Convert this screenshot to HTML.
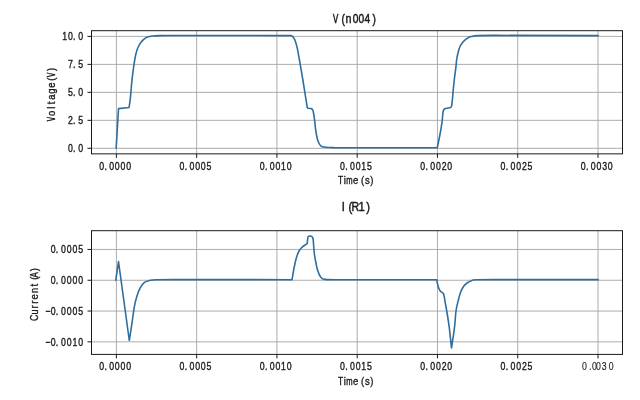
<!DOCTYPE html><html><head><meta charset="utf-8"><style>html,body{margin:0;padding:0;background:#fff;width:640px;height:400px;overflow:hidden}svg{display:block;will-change:transform}</style></head><body>
<svg width="640" height="400" viewBox="0 0 640 400" font-family='"Liberation Sans", sans-serif'>
<rect width="640" height="400" fill="#fff"/>
<path d="M116.4 30.7V153.85M196.67 30.7V153.85M276.93 30.7V153.85M357.2 30.7V153.85M437.46 30.7V153.85M517.73 30.7V153.85M597.99 30.7V153.85M91.5 148.3H622.5M91.5 120.33H622.5M91.5 92.35H622.5M91.5 64.38H622.5M91.5 36.4H622.5" stroke="#a4a4a4" stroke-width="0.9" fill="none"/>
<rect x="91.5" y="30.7" width="531" height="123.15" fill="none" stroke="#1a1a1a" stroke-width="1"/>
<path d="M116.4 153.85v4M196.67 153.85v4M276.93 153.85v4M357.2 153.85v4M437.46 153.85v4M517.73 153.85v4M597.99 153.85v4M91.5 148.3h-4M91.5 120.33h-4M91.5 92.35h-4M91.5 64.38h-4M91.5 36.4h-4" stroke="#1a1a1a" stroke-width="1" fill="none"/>
<g font-size="11.2" text-anchor="middle" fill="#1a1a1a" stroke="#1a1a1a"><text transform="translate(101.7 169.9) scale(0.78 1)" stroke-width="0.38">0</text><text transform="translate(105.6 169.9) scale(0.78 1)" stroke-width="0.38">.</text><text transform="translate(111.7 169.9) scale(0.78 1)" stroke-width="0.38">0</text><text transform="translate(117.3 169.9) scale(0.78 1)" stroke-width="0.38">0</text><text transform="translate(123 169.9) scale(0.78 1)" stroke-width="0.38">0</text><text transform="translate(128.6 169.9) scale(0.78 1)" stroke-width="0.38">0</text></g>
<g font-size="11.2" text-anchor="middle" fill="#1a1a1a" stroke="#1a1a1a"><text transform="translate(181.97 169.9) scale(0.78 1)" stroke-width="0.38">0</text><text transform="translate(185.87 169.9) scale(0.78 1)" stroke-width="0.38">.</text><text transform="translate(191.97 169.9) scale(0.78 1)" stroke-width="0.38">0</text><text transform="translate(197.57 169.9) scale(0.78 1)" stroke-width="0.38">0</text><text transform="translate(203.27 169.9) scale(0.78 1)" stroke-width="0.38">0</text><text transform="translate(208.87 169.9) scale(0.78 1)" stroke-width="0.38">5</text></g>
<g font-size="11.2" text-anchor="middle" fill="#1a1a1a" stroke="#1a1a1a"><text transform="translate(262.23 169.9) scale(0.78 1)" stroke-width="0.38">0</text><text transform="translate(266.13 169.9) scale(0.78 1)" stroke-width="0.38">.</text><text transform="translate(272.23 169.9) scale(0.78 1)" stroke-width="0.38">0</text><text transform="translate(277.83 169.9) scale(0.78 1)" stroke-width="0.38">0</text><text transform="translate(283.53 169.9) scale(0.78 1)" stroke-width="0.38">1</text><text transform="translate(289.13 169.9) scale(0.78 1)" stroke-width="0.38">0</text></g>
<g font-size="11.2" text-anchor="middle" fill="#1a1a1a" stroke="#1a1a1a"><text transform="translate(342.5 169.9) scale(0.78 1)" stroke-width="0.38">0</text><text transform="translate(346.4 169.9) scale(0.78 1)" stroke-width="0.38">.</text><text transform="translate(352.5 169.9) scale(0.78 1)" stroke-width="0.38">0</text><text transform="translate(358.1 169.9) scale(0.78 1)" stroke-width="0.38">0</text><text transform="translate(363.8 169.9) scale(0.78 1)" stroke-width="0.38">1</text><text transform="translate(369.4 169.9) scale(0.78 1)" stroke-width="0.38">5</text></g>
<g font-size="11.2" text-anchor="middle" fill="#1a1a1a" stroke="#1a1a1a"><text transform="translate(422.76 169.9) scale(0.78 1)" stroke-width="0.38">0</text><text transform="translate(426.66 169.9) scale(0.78 1)" stroke-width="0.38">.</text><text transform="translate(432.76 169.9) scale(0.78 1)" stroke-width="0.38">0</text><text transform="translate(438.36 169.9) scale(0.78 1)" stroke-width="0.38">0</text><text transform="translate(444.06 169.9) scale(0.78 1)" stroke-width="0.38">2</text><text transform="translate(449.66 169.9) scale(0.78 1)" stroke-width="0.38">0</text></g>
<g font-size="11.2" text-anchor="middle" fill="#1a1a1a" stroke="#1a1a1a"><text transform="translate(503.03 169.9) scale(0.78 1)" stroke-width="0.38">0</text><text transform="translate(506.93 169.9) scale(0.78 1)" stroke-width="0.38">.</text><text transform="translate(513.02 169.9) scale(0.78 1)" stroke-width="0.38">0</text><text transform="translate(518.62 169.9) scale(0.78 1)" stroke-width="0.38">0</text><text transform="translate(524.33 169.9) scale(0.78 1)" stroke-width="0.38">2</text><text transform="translate(529.93 169.9) scale(0.78 1)" stroke-width="0.38">5</text></g>
<g font-size="11.2" text-anchor="middle" fill="#1a1a1a" stroke="#1a1a1a"><text transform="translate(583.29 169.9) scale(0.78 1)" stroke-width="0.38">0</text><text transform="translate(587.19 169.9) scale(0.78 1)" stroke-width="0.38">.</text><text transform="translate(593.29 169.9) scale(0.78 1)" stroke-width="0.38">0</text><text transform="translate(598.89 169.9) scale(0.78 1)" stroke-width="0.38">0</text><text transform="translate(604.59 169.9) scale(0.78 1)" stroke-width="0.38">3</text><text transform="translate(610.19 169.9) scale(0.78 1)" stroke-width="0.38">0</text></g>
<g font-size="11.2" text-anchor="middle" fill="#1a1a1a" stroke="#1a1a1a"><text transform="translate(70.4 152.2) scale(0.78 1)" stroke-width="0.38">0</text><text transform="translate(74.32 152.2) scale(0.78 1)" stroke-width="0.38">.</text><text transform="translate(80.8 152.2) scale(0.78 1)" stroke-width="0.38">0</text></g>
<g font-size="11.2" text-anchor="middle" fill="#1a1a1a" stroke="#1a1a1a"><text transform="translate(70.4 124.23) scale(0.78 1)" stroke-width="0.38">2</text><text transform="translate(74.32 124.23) scale(0.78 1)" stroke-width="0.38">.</text><text transform="translate(80.8 124.23) scale(0.78 1)" stroke-width="0.38">5</text></g>
<g font-size="11.2" text-anchor="middle" fill="#1a1a1a" stroke="#1a1a1a"><text transform="translate(70.4 96.25) scale(0.78 1)" stroke-width="0.38">5</text><text transform="translate(74.32 96.25) scale(0.78 1)" stroke-width="0.38">.</text><text transform="translate(80.8 96.25) scale(0.78 1)" stroke-width="0.38">0</text></g>
<g font-size="11.2" text-anchor="middle" fill="#1a1a1a" stroke="#1a1a1a"><text transform="translate(70.4 68.28) scale(0.78 1)" stroke-width="0.38">7</text><text transform="translate(74.32 68.28) scale(0.78 1)" stroke-width="0.38">.</text><text transform="translate(80.8 68.28) scale(0.78 1)" stroke-width="0.38">5</text></g>
<g font-size="11.2" text-anchor="middle" fill="#1a1a1a" stroke="#1a1a1a"><text transform="translate(64.65 40.3) scale(0.78 1)" stroke-width="0.38">1</text><text transform="translate(70.4 40.3) scale(0.78 1)" stroke-width="0.38">0</text><text transform="translate(74.32 40.3) scale(0.78 1)" stroke-width="0.38">.</text><text transform="translate(80.8 40.3) scale(0.78 1)" stroke-width="0.38">0</text></g>
<g font-size="10.6" text-anchor="middle" fill="#1a1a1a" stroke="#1a1a1a"><text transform="translate(340.5 184.3) scale(0.8 1)" stroke-width="0.37">T</text><text transform="translate(344.8 184.3) scale(0.9 1)" stroke-width="0.33">i</text><text transform="translate(349.45 184.3) scale(0.72 1)" stroke-width="0.42">m</text><text transform="translate(355.6 184.3) scale(0.9 1)" stroke-width="0.33">e</text><text transform="translate(362.65 184.3) scale(0.9 1)" stroke-width="0.33">(</text><text transform="translate(367.3 184.3) scale(0.9 1)" stroke-width="0.33">s</text><text transform="translate(371.95 184.3) scale(0.9 1)" stroke-width="0.33">)</text></g>
<path d="M116.2 148L118.5 108.6L129 107.5C129.12 106.75 129.52 104.58 129.75 103C129.98 101.42 130.21 99.83 130.4 98C130.59 96.17 130.63 95 130.9 92C131.17 89 131.57 84 132 80C132.43 76 133.05 71.33 133.5 68C133.95 64.67 134.3 62.33 134.7 60C135.1 57.67 135.39 56 135.9 54C136.41 52 137 49.82 137.75 48C138.5 46.18 139.4 44.53 140.4 43.1C141.4 41.67 142.57 40.4 143.75 39.4C144.93 38.4 146 37.67 147.5 37.1C149 36.53 150.75 36.25 152.75 36C154.75 35.75 155.62 35.68 159.5 35.6C163.38 35.52 173.25 35.52 176 35.5L290 35.6C290.38 35.68 291.5 35.4 292.3 36.1C293.1 36.8 293.98 37.83 294.8 39.8C295.62 41.77 296.4 44.38 297.2 47.9C298 51.42 298.92 57.12 299.6 60.9C300.28 64.68 300.7 67.08 301.3 70.6C301.9 74.12 302.54 77.93 303.2 82C303.86 86.07 304.74 91.83 305.25 95C305.76 98.17 305.92 98.9 306.25 101C306.58 103.1 307.08 106.5 307.25 107.6L307.75 108.25L311.25 108.5C311.5 108.75 312.38 109.25 312.75 110C313.12 110.75 313.21 111.45 313.5 113C313.79 114.55 314.12 116.35 314.5 119.3C314.88 122.25 315.25 127.18 315.8 130.7C316.35 134.22 316.93 137.83 317.8 140.4C318.67 142.97 319.65 144.97 321 146.1C322.35 147.23 323.57 146.93 325.9 147.2C328.23 147.47 333.48 147.62 335 147.7L437.25 147.75L438.9 140L440.8 130L442.3 120L442.6 116C442.71 115.17 442.89 112.21 443.25 111C443.61 109.79 443.88 109.25 444.75 108.75C445.62 108.25 447.46 108.25 448.5 108C449.54 107.75 450.46 107.75 451 107.25C451.54 106.75 451.54 106.04 451.75 105C451.96 103.96 452.08 102.5 452.25 101C452.42 99.5 452.61 97.62 452.75 96C452.89 94.38 452.83 94.12 453.1 91.25C453.38 88.38 453.92 82.92 454.4 78.75C454.88 74.58 455.63 69.38 456 66.25C456.37 63.12 456.25 62.29 456.6 60C456.95 57.71 457.53 54.75 458.1 52.5C458.67 50.25 459.18 48.25 460 46.5C460.82 44.75 461.88 43.32 463 42C464.12 40.68 465.38 39.5 466.75 38.6C468.12 37.7 469.38 37.1 471.25 36.6C473.12 36.1 473.88 35.8 478 35.6C482.12 35.4 493 35.43 496 35.4L598 35.6" fill="none" stroke="#2f6d9c" stroke-width="1.6" stroke-linejoin="round" stroke-linecap="square"/>
<g font-size="12.7" text-anchor="middle" fill="#1a1a1a" stroke="#1a1a1a"><text transform="translate(335.65 23.1) scale(0.62 1)" stroke-width="0.65">V</text><text transform="translate(343.25 23.1) scale(0.8 1)" stroke-width="0.5">(</text><text transform="translate(348.6 23.1) scale(0.85 1)" stroke-width="0.47">n</text><text transform="translate(355.5 23.1) scale(0.8 1)" stroke-width="0.5">0</text><text transform="translate(361.4 23.1) scale(0.8 1)" stroke-width="0.5">0</text><text transform="translate(367.4 23.1) scale(0.8 1)" stroke-width="0.5">4</text><text transform="translate(374.2 23.1) scale(0.8 1)" stroke-width="0.5">)</text></g>
<g font-size="10.6" text-anchor="middle" fill="#1a1a1a" stroke="#1a1a1a"><text transform="translate(55.3 119) rotate(-90) scale(0.62 1)" stroke-width="0.56">V</text><text transform="translate(55.3 113.4) rotate(-90) scale(0.9 1)" stroke-width="0.39">o</text><text transform="translate(55.3 107.6) rotate(-90) scale(0.9 1)" stroke-width="0.39">l</text><text transform="translate(55.3 102.8) rotate(-90) scale(0.9 1)" stroke-width="0.39">t</text><text transform="translate(55.3 97.2) rotate(-90) scale(0.9 1)" stroke-width="0.39">a</text><text transform="translate(55.3 91.2) rotate(-90) scale(0.9 1)" stroke-width="0.39">g</text><text transform="translate(55.3 85) rotate(-90) scale(0.9 1)" stroke-width="0.39">e</text><text transform="translate(55.3 79.2) rotate(-90) scale(0.9 1)" stroke-width="0.39">(</text><text transform="translate(55.3 74.8) rotate(-90) scale(0.62 1)" stroke-width="0.56">V</text><text transform="translate(55.3 69.5) rotate(-90) scale(0.9 1)" stroke-width="0.39">)</text></g>
<path d="M116.4 230.7V354.4M196.67 230.7V354.4M276.93 230.7V354.4M357.2 230.7V354.4M437.46 230.7V354.4M517.73 230.7V354.4M597.99 230.7V354.4M91.5 341.85H622.5M91.5 311.05H622.5M91.5 280.25H622.5M91.5 249.45H622.5" stroke="#a4a4a4" stroke-width="0.9" fill="none"/>
<rect x="91.5" y="230.7" width="531" height="123.7" fill="none" stroke="#1a1a1a" stroke-width="1"/>
<path d="M116.4 354.4v4M196.67 354.4v4M276.93 354.4v4M357.2 354.4v4M437.46 354.4v4M517.73 354.4v4M597.99 354.4v4M91.5 341.85h-4M91.5 311.05h-4M91.5 280.25h-4M91.5 249.45h-4" stroke="#1a1a1a" stroke-width="1" fill="none"/>
<g font-size="11.2" text-anchor="middle" fill="#1a1a1a" stroke="#1a1a1a"><text transform="translate(101.7 370.3) scale(0.78 1)" stroke-width="0.38">0</text><text transform="translate(105.6 370.3) scale(0.78 1)" stroke-width="0.38">.</text><text transform="translate(111.7 370.3) scale(0.78 1)" stroke-width="0.38">0</text><text transform="translate(117.3 370.3) scale(0.78 1)" stroke-width="0.38">0</text><text transform="translate(123 370.3) scale(0.78 1)" stroke-width="0.38">0</text><text transform="translate(128.6 370.3) scale(0.78 1)" stroke-width="0.38">0</text></g>
<g font-size="11.2" text-anchor="middle" fill="#1a1a1a" stroke="#1a1a1a"><text transform="translate(181.97 370.3) scale(0.78 1)" stroke-width="0.38">0</text><text transform="translate(185.87 370.3) scale(0.78 1)" stroke-width="0.38">.</text><text transform="translate(191.97 370.3) scale(0.78 1)" stroke-width="0.38">0</text><text transform="translate(197.57 370.3) scale(0.78 1)" stroke-width="0.38">0</text><text transform="translate(203.27 370.3) scale(0.78 1)" stroke-width="0.38">0</text><text transform="translate(208.87 370.3) scale(0.78 1)" stroke-width="0.38">5</text></g>
<g font-size="11.2" text-anchor="middle" fill="#1a1a1a" stroke="#1a1a1a"><text transform="translate(262.23 370.3) scale(0.78 1)" stroke-width="0.38">0</text><text transform="translate(266.13 370.3) scale(0.78 1)" stroke-width="0.38">.</text><text transform="translate(272.23 370.3) scale(0.78 1)" stroke-width="0.38">0</text><text transform="translate(277.83 370.3) scale(0.78 1)" stroke-width="0.38">0</text><text transform="translate(283.53 370.3) scale(0.78 1)" stroke-width="0.38">1</text><text transform="translate(289.13 370.3) scale(0.78 1)" stroke-width="0.38">0</text></g>
<g font-size="11.2" text-anchor="middle" fill="#1a1a1a" stroke="#1a1a1a"><text transform="translate(342.5 370.3) scale(0.78 1)" stroke-width="0.38">0</text><text transform="translate(346.4 370.3) scale(0.78 1)" stroke-width="0.38">.</text><text transform="translate(352.5 370.3) scale(0.78 1)" stroke-width="0.38">0</text><text transform="translate(358.1 370.3) scale(0.78 1)" stroke-width="0.38">0</text><text transform="translate(363.8 370.3) scale(0.78 1)" stroke-width="0.38">1</text><text transform="translate(369.4 370.3) scale(0.78 1)" stroke-width="0.38">5</text></g>
<g font-size="11.2" text-anchor="middle" fill="#1a1a1a" stroke="#1a1a1a"><text transform="translate(422.76 370.3) scale(0.78 1)" stroke-width="0.38">0</text><text transform="translate(426.66 370.3) scale(0.78 1)" stroke-width="0.38">.</text><text transform="translate(432.76 370.3) scale(0.78 1)" stroke-width="0.38">0</text><text transform="translate(438.36 370.3) scale(0.78 1)" stroke-width="0.38">0</text><text transform="translate(444.06 370.3) scale(0.78 1)" stroke-width="0.38">2</text><text transform="translate(449.66 370.3) scale(0.78 1)" stroke-width="0.38">0</text></g>
<g font-size="11.2" text-anchor="middle" fill="#1a1a1a" stroke="#1a1a1a"><text transform="translate(503.03 370.3) scale(0.78 1)" stroke-width="0.38">0</text><text transform="translate(506.93 370.3) scale(0.78 1)" stroke-width="0.38">.</text><text transform="translate(513.02 370.3) scale(0.78 1)" stroke-width="0.38">0</text><text transform="translate(518.62 370.3) scale(0.78 1)" stroke-width="0.38">0</text><text transform="translate(524.33 370.3) scale(0.78 1)" stroke-width="0.38">2</text><text transform="translate(529.93 370.3) scale(0.78 1)" stroke-width="0.38">5</text></g>
<g font-size="11.2" text-anchor="middle" fill="#1a1a1a" stroke="#1a1a1a"><text transform="translate(584.4 370.4) scale(0.78 1)" stroke-width="0.13">0</text><text transform="translate(590.1 370.4) scale(0.78 1)" stroke-width="0.13">.</text><text transform="translate(594.4 370.4) scale(0.78 1)" stroke-width="0.13">0</text><text transform="translate(598.5 370.4) scale(0.78 1)" stroke-width="0.13">0</text><text transform="translate(604.3 370.4) scale(0.78 1)" stroke-width="0.13">3</text><text transform="translate(611.2 370.4) scale(0.78 1)" stroke-width="0.13">0</text></g>
<g font-size="11.2" text-anchor="middle" fill="#1a1a1a" stroke="#1a1a1a"><text transform="translate(47.98 345.75) scale(0.78 1)" stroke-width="0.38">−</text><text transform="translate(53.15 345.75) scale(0.78 1)" stroke-width="0.38">0</text><text transform="translate(57.07 345.75) scale(0.78 1)" stroke-width="0.38">.</text><text transform="translate(63.55 345.75) scale(0.78 1)" stroke-width="0.38">0</text><text transform="translate(69.3 345.75) scale(0.78 1)" stroke-width="0.38">0</text><text transform="translate(75.05 345.75) scale(0.78 1)" stroke-width="0.38">1</text><text transform="translate(80.8 345.75) scale(0.78 1)" stroke-width="0.38">0</text></g>
<g font-size="11.2" text-anchor="middle" fill="#1a1a1a" stroke="#1a1a1a"><text transform="translate(47.98 314.95) scale(0.78 1)" stroke-width="0.38">−</text><text transform="translate(53.15 314.95) scale(0.78 1)" stroke-width="0.38">0</text><text transform="translate(57.07 314.95) scale(0.78 1)" stroke-width="0.38">.</text><text transform="translate(63.55 314.95) scale(0.78 1)" stroke-width="0.38">0</text><text transform="translate(69.3 314.95) scale(0.78 1)" stroke-width="0.38">0</text><text transform="translate(75.05 314.95) scale(0.78 1)" stroke-width="0.38">0</text><text transform="translate(80.8 314.95) scale(0.78 1)" stroke-width="0.38">5</text></g>
<g font-size="11.2" text-anchor="middle" fill="#1a1a1a" stroke="#1a1a1a"><text transform="translate(53.15 284.15) scale(0.78 1)" stroke-width="0.38">0</text><text transform="translate(57.07 284.15) scale(0.78 1)" stroke-width="0.38">.</text><text transform="translate(63.55 284.15) scale(0.78 1)" stroke-width="0.38">0</text><text transform="translate(69.3 284.15) scale(0.78 1)" stroke-width="0.38">0</text><text transform="translate(75.05 284.15) scale(0.78 1)" stroke-width="0.38">0</text><text transform="translate(80.8 284.15) scale(0.78 1)" stroke-width="0.38">0</text></g>
<g font-size="11.2" text-anchor="middle" fill="#1a1a1a" stroke="#1a1a1a"><text transform="translate(53.15 253.35) scale(0.78 1)" stroke-width="0.38">0</text><text transform="translate(57.07 253.35) scale(0.78 1)" stroke-width="0.38">.</text><text transform="translate(63.55 253.35) scale(0.78 1)" stroke-width="0.38">0</text><text transform="translate(69.3 253.35) scale(0.78 1)" stroke-width="0.38">0</text><text transform="translate(75.05 253.35) scale(0.78 1)" stroke-width="0.38">0</text><text transform="translate(80.8 253.35) scale(0.78 1)" stroke-width="0.38">5</text></g>
<g font-size="10.6" text-anchor="middle" fill="#1a1a1a" stroke="#1a1a1a"><text transform="translate(340.5 384.7) scale(0.8 1)" stroke-width="0.37">T</text><text transform="translate(344.8 384.7) scale(0.9 1)" stroke-width="0.33">i</text><text transform="translate(349.45 384.7) scale(0.72 1)" stroke-width="0.42">m</text><text transform="translate(355.6 384.7) scale(0.9 1)" stroke-width="0.33">e</text><text transform="translate(362.65 384.7) scale(0.9 1)" stroke-width="0.33">(</text><text transform="translate(367.3 384.7) scale(0.9 1)" stroke-width="0.33">s</text><text transform="translate(371.95 384.7) scale(0.9 1)" stroke-width="0.33">)</text></g>
<path d="M115.8 280L118.5 261.5L129.3 340.5C129.78 337.37 131.37 327.32 132.2 321.7C133.03 316.08 133.52 311.05 134.3 306.8C135.08 302.55 135.9 299.38 136.9 296.2C137.9 293.02 139.03 290.02 140.3 287.7C141.57 285.38 142.85 283.53 144.5 282.3C146.15 281.07 148.24 280.73 150.2 280.3C152.16 279.88 151.62 279.87 156.25 279.75C160.88 279.63 174.38 279.62 178 279.6L292 279.7C292.38 277.58 293.52 270.66 294.25 267C294.98 263.34 295.61 260.42 296.4 257.75C297.19 255.08 298.07 252.75 299 251C299.93 249.25 301 248.25 302 247.25C303 246.25 304.12 245.62 305 245C305.88 244.38 306.88 243.75 307.25 243.5C307.31 242.88 307.45 240.9 307.6 239.75C307.75 238.6 307.77 237.22 308.15 236.6C308.53 235.97 309.24 235.97 309.9 236C310.56 236.03 311.57 236.25 312.1 236.75C312.63 237.25 312.85 237.62 313.1 239C313.35 240.38 313.37 242.33 313.6 245C313.83 247.67 314.1 252 314.5 255C314.9 258 315.5 260.5 316 263C316.5 265.5 316.75 267.72 317.5 270C318.25 272.28 319.25 275.13 320.5 276.7C321.75 278.27 321.08 278.9 325 279.4C328.92 279.9 340.83 279.65 344 279.7L436.75 279.8C436.88 280.46 437.23 282.5 437.5 283.75C437.77 285 437.94 286.09 438.4 287.3C438.86 288.51 439.45 290 440.25 291C441.05 292 442.52 292.3 443.2 293.3C443.88 294.3 443.98 295.55 444.3 297C444.62 298.45 444.65 299.42 445.1 302C445.55 304.58 446.31 308.25 447 312.5C447.69 316.75 448.5 321.58 449.25 327.5C450 333.42 451.12 344.58 451.5 348C452 344.58 453.75 333.67 454.5 327.5C455.25 321.33 455.38 315.5 456 311C456.62 306.5 457.5 303.58 458.25 300.5C459 297.42 459.62 294.83 460.5 292.5C461.38 290.17 462.38 288.12 463.5 286.5C464.62 284.88 466 283.68 467.25 282.75C468.5 281.82 469.5 281.4 471 280.9C472.5 280.4 470.75 279.97 476.25 279.75C481.75 279.53 499.38 279.62 504 279.6L598 279.6" fill="none" stroke="#2f6d9c" stroke-width="1.6" stroke-linejoin="round" stroke-linecap="square"/>
<g font-size="13.2" text-anchor="middle" fill="#1a1a1a" stroke="#1a1a1a"><text transform="translate(343.35 210.6) scale(0.85 1)" stroke-width="0.47">I</text><text transform="translate(350.4 210.6) scale(0.85 1)" stroke-width="0.47">(</text><text transform="translate(355.25 210.6) scale(0.8 1)" stroke-width="0.5">R</text><text transform="translate(361.6 210.6) scale(0.85 1)" stroke-width="0.47">1</text><text transform="translate(368 210.6) scale(0.85 1)" stroke-width="0.47">)</text></g>
<g font-size="10.6" text-anchor="middle" fill="#1a1a1a" stroke="#1a1a1a"><text transform="translate(38.2 317.8) rotate(-90) scale(0.85 1)" stroke-width="0.35">C</text><text transform="translate(38.2 312) rotate(-90) scale(0.85 1)" stroke-width="0.35">u</text><text transform="translate(38.2 306.8) rotate(-90) scale(0.9 1)" stroke-width="0.33">r</text><text transform="translate(38.2 302.2) rotate(-90) scale(0.9 1)" stroke-width="0.33">r</text><text transform="translate(38.2 296.8) rotate(-90) scale(0.9 1)" stroke-width="0.33">e</text><text transform="translate(38.2 290.4) rotate(-90) scale(0.85 1)" stroke-width="0.35">n</text><text transform="translate(38.2 285.2) rotate(-90) scale(0.9 1)" stroke-width="0.33">t</text><text transform="translate(38.2 278.2) rotate(-90) scale(0.9 1)" stroke-width="0.33">(</text><text transform="translate(38.2 274.8) rotate(-90) scale(0.75 1)" stroke-width="0.4">A</text><text transform="translate(38.2 269.6) rotate(-90) scale(0.9 1)" stroke-width="0.33">)</text></g>
</svg></body></html>
